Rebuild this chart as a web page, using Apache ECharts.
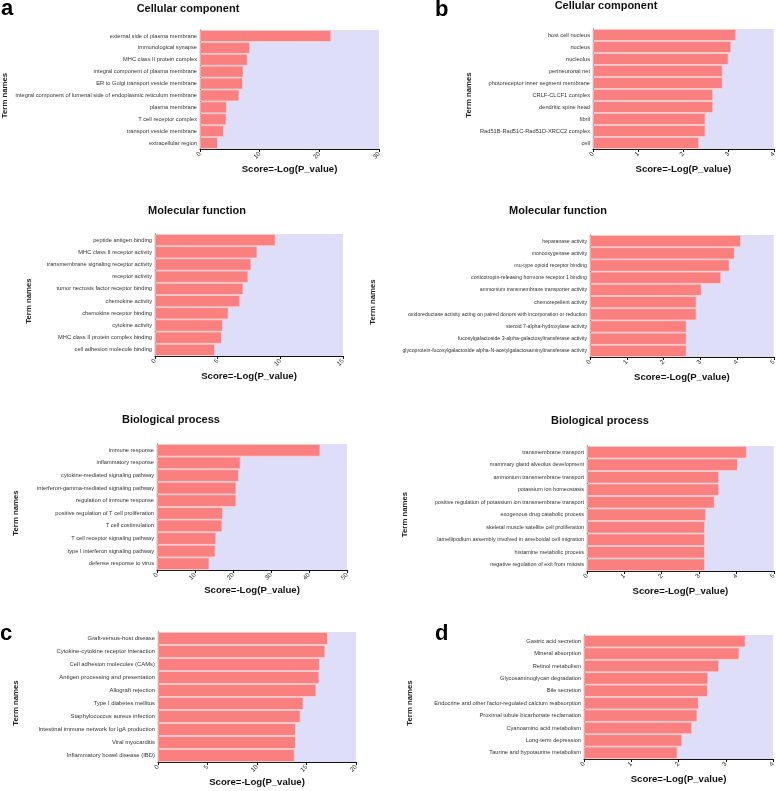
<!DOCTYPE html>
<html>
<head>
<meta charset="utf-8">
<script src="https://cdn.jsdelivr.net/npm/echarts@6/dist/echarts.min.js"></script>
<style>
html,body{margin:0;padding:0;background:#fff}
#main{width:778px;height:791px}
</style>
</head>
<body>
<div id="main"></div>
<script>
// GO / KEGG enrichment scores (top bar first)
var aCcNames = ['external side of plasma membrane', 'immunological synapse', 'MHC class II protein complex',
	'integral component of plasma membrane', 'ER to Golgi transport vesicle membrane',
	'integral component of lumenal side of endoplasmic reticulum membrane', 'plasma membrane',
	'T cell receptor complex', 'transport vesicle membrane', 'extracellular region'];
var aCcScores = [22.0, 8.4, 8.0, 7.3, 7.2, 6.6, 4.5, 4.45, 4.0, 3.0];

var bCcNames = ['host cell nucleus', 'nucleus', 'nucleolus', 'perineuronal net',
	'photoreceptor inner segment membrane', 'CRLF-CLCF1 complex', 'dendritic spine head', 'fibril',
	'Rad51B-Rad51C-Rad51D-XRCC2 complex', 'cell'];
var bCcScores = [3.17, 3.06, 3.0, 2.87, 2.87, 2.66, 2.66, 2.49, 2.49, 2.35];

var aMfNames = ['peptide antigen binding', 'MHC class II receptor activity', 'transmembrane signaling receptor activity',
	'receptor activity', 'tumor necrosis factor receptor binding', 'chemokine activity', 'chemokine receptor binding',
	'cytokine activity', 'MHC class II protein complex binding', 'cell adhesion molecule binding'];
var aMfScores = [9.63, 8.17, 7.69, 7.45, 7.05, 6.8, 5.87, 5.42, 5.34, 4.8];

var bMfNames = ['heparanase activity', 'monooxygenase activity', 'mu-type opioid receptor binding',
	'corticotropin-releasing hormone receptor 1 binding', 'ammonium transmembrane transporter activity',
	'chemorepellent activity', 'oxidoreductase activity acting on paired donors with incorporation or reduction',
	'steroid 7-alpha-hydroxylase activity', 'fucosylgalactoside 3-alpha-galactosyltransferase activity',
	'glycoprotein-fucosylgalactoside alpha-N-acetylgalactosaminyltransferase activity'];
var bMfScores = [4.11, 3.94, 3.8, 3.57, 3.04, 2.9, 2.9, 2.63, 2.63, 2.63];

var aBpNames = ['immune response', 'inflammatory response', 'cytokine-mediated signaling pathway',
	'interferon-gamma-mediated signaling pathway', 'regulation of immune response',
	'positive regulation of T cell proliferation', 'T cell costimulation', 'T cell receptor signaling pathway',
	'type I interferon signaling pathway', 'defense response to virus'];
var aBpScores = [43.0, 22.0, 21.6, 20.9, 20.9, 17.4, 17.2, 15.6, 15.4, 13.8];

var bBpNames = ['transmembrane transport', 'mammary gland alveolus development', 'ammonium transmembrane transport',
	'potassium ion homeostasis', 'positive regulation of potassium ion transmembrane transport',
	'exogenous drug catabolic process', 'skeletal muscle satellite cell proliferation',
	'lamellipodium assembly involved in ameboidal cell migration', 'histamine metabolic process',
	'negative regulation of exit from mitosis'];
var bBpScores = [4.28, 4.04, 3.54, 3.54, 3.42, 3.19, 3.16, 3.16, 3.16, 3.16];

var cKeggNames = ['Graft-versus-host disease', 'Cytokine-cytokine receptor interaction', 'Cell adhesion molecules (CAMs)',
	'Antigen processing and presentation', 'Allograft rejection', 'Type I diabetes mellitus',
	'Staphylococcus aureus infection', 'Intestinal immune network for IgA production', 'Viral myocarditis',
	'Inflammatory bowel disease (IBD)'];
var cKeggScores = [17.17, 16.9, 16.36, 16.3, 15.99, 14.7, 14.4, 13.93, 13.93, 13.8];

var dKeggNames = ['Gastric acid secretion', 'Mineral absorption', 'Retinol metabolism', 'Glycosaminoglycan degradation',
	'Bile secretion', 'Endocrine and other factor-regulated calcium reabsorption',
	'Proximal tubule bicarbonate reclamation', 'Cyanoamino acid metabolism', 'Long-term depression',
	'Taurine and hypotaurine metabolism'];
var dKeggScores = [3.42, 3.29, 2.86, 2.63, 2.62, 2.43, 2.40, 2.29, 2.08, 1.98];

// x axis ranges (max, tick step) per panel
var axisMax = [30, 4, 15, 5, 50, 5, 20, 4];
var axisStep = [10, 1, 5, 1, 10, 1, 5, 1];

var FONT = 'Arial, "Liberation Sans", sans-serif';

// layout of the eight plots
var panels = [
	{names: aCcNames, scores: aCcScores, left: 200, top: 30, width: 179, height: 119, termGap: 191, lab: 5.7},
	{names: bCcNames, scores: bCcScores, left: 593, top: 29, width: 182, height: 120, termGap: 120, lab: 5.7},
	{names: aMfNames, scores: aMfScores, left: 155, top: 234, width: 188, height: 122, termGap: 122, lab: 5.7},
	{names: bMfNames, scores: bMfScores, left: 590, top: 235, width: 184, height: 122, termGap: 213, lab: 5.2},
	{names: aBpNames, scores: aBpScores, left: 157, top: 444, width: 190, height: 126, termGap: 137, lab: 5.7},
	{names: bBpNames, scores: bBpScores, left: 587, top: 446, width: 188, height: 125, termGap: 178, lab: 5.5},
	{names: cKeggNames, scores: cKeggScores, left: 158, top: 632, width: 198, height: 130, termGap: 138, lab: 5.9},
	{names: dKeggNames, scores: dKeggScores, left: 584, top: 635, width: 189, height: 124, termGap: 170, lab: 5.7}
];

var dom = document.getElementById('main');
var myChart = echarts.init(dom);

var grids = [], xAxes = [], yAxes = [], series = [];
for (var i = 0; i < panels.length; i++) {
	var p = panels[i];
	grids.push({
		left: p.left, top: p.top, width: p.width, height: p.height,
		show: true, backgroundColor: '#DEDEF9', borderWidth: 0
	});
	xAxes.push({
		type: 'value', gridIndex: i, min: 0, max: axisMax[i], interval: axisStep[i],
		axisLine: {show: true, lineStyle: {color: '#111', width: 1}},
		axisTick: {show: true, length: 3, lineStyle: {color: '#111'}},
		splitLine: {show: false},
		axisLabel: {rotate: 45, fontSize: 6.4, color: '#333', margin: 4, fontFamily: FONT},
		name: 'Score=-Log(P_value)', nameLocation: 'middle', nameGap: 15,
		nameTextStyle: {fontSize: 9.6, fontWeight: 'bold', color: '#111', fontFamily: FONT}
	});
	yAxes.push({
		type: 'category', gridIndex: i, data: p.names, inverse: true,
		axisLine: {show: true, lineStyle: {color: '#111', width: 1.2}},
		axisTick: {show: false},
		axisLabel: {fontSize: p.lab, color: '#333', margin: 3, fontFamily: FONT},
		name: 'Term names', nameLocation: 'middle', nameGap: p.termGap,
		nameTextStyle: {fontSize: 7.8, fontWeight: 'bold', color: '#222', fontFamily: FONT,
			padding: [0, 12, 0, 0]}
	});
	series.push({
		type: 'bar', xAxisIndex: i, yAxisIndex: i, data: p.scores,
		barCategoryGap: '0%', silent: true,
		itemStyle: {color: '#FA8080', borderColor: '#FFD0D0', borderWidth: 0.8}
	});
}

var heads = [
	['Cellular component', 188, 8.5], ['Cellular component', 606, 5.5],
	['Molecular function', 197, 211], ['Molecular function', 558, 211],
	['Biological process', 171, 420], ['Biological process', 600, 421]
];
var letters = [['a', 1, 9], ['b', 435, 9.5], ['c', 0, 634], ['d', 435, 634]];

var graphics = [];
heads.forEach(function (h) {
	graphics.push({type: 'text', x: h[1], y: h[2], silent: true,
		style: {text: h[0], fontSize: 11, fontWeight: 'bold', fill: '#111', fontFamily: FONT,
			align: 'center', verticalAlign: 'middle'}});
});
letters.forEach(function (l) {
	graphics.push({type: 'text', x: l[1], y: l[2], silent: true,
		style: {text: l[0], fontSize: 22, fontWeight: 'bold', fill: '#000', fontFamily: FONT,
			align: 'left', verticalAlign: 'middle'}});
});

var option = {
	animation: false,
	backgroundColor: '#fff',
	textStyle: {fontFamily: FONT},
	grid: grids,
	xAxis: xAxes,
	yAxis: yAxes,
	series: series,
	graphic: graphics
};
myChart.setOption(option, true);
</script>
</body>
</html>
